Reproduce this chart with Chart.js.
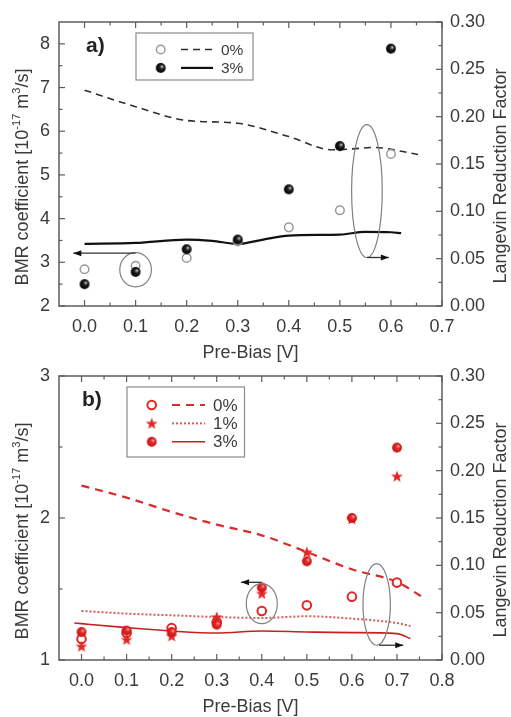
<!DOCTYPE html>
<html>
<head>
<meta charset="utf-8">
<script src="https://cdn.jsdelivr.net/npm/chart.js@4"></script>
<style>
  html, body { margin: 0; padding: 0; background: #fff; }
  #wrap { position: relative; width: 511px; height: 717px; overflow: hidden; background: #fff; }
  canvas { position: absolute; left: 0; }
</style>
</head>
<body>
<div id="wrap">
  <canvas id="panelA" width="511" height="363" style="top:0"></canvas>
  <canvas id="panelB" width="511" height="363" style="top:354px"></canvas>
</div>
<script>
// ---------- panel a) ----------
const biasA   = [0.0, 0.1, 0.2, 0.3, 0.4, 0.5, 0.6];
const bmrA0   = [2.84, 2.92, 3.10, 3.48, 3.80, 4.19, 5.48];   // 0 %, open circles
const bmrA3   = [2.50, 2.78, 3.30, 3.52, 4.67, 5.66, 7.89];   // 3 %, filled circles
const lrfXA0  = [0.0, 0.1, 0.2, 0.3, 0.4, 0.485, 0.525, 0.57, 0.615, 0.653];
const lrfA0   = [0.228, 0.2105, 0.196, 0.193, 0.179, 0.165, 0.166, 0.1675, 0.164, 0.160];
const lrfXA3  = [0.0, 0.1, 0.2, 0.25, 0.3, 0.35, 0.4, 0.5, 0.55, 0.6, 0.62];
const lrfA3   = [0.0656, 0.0666, 0.0702, 0.0688, 0.0656, 0.0702, 0.0744, 0.0755, 0.0783, 0.0779, 0.0769];
const xTicksA = [0.0, 0.1, 0.2, 0.3, 0.4, 0.5, 0.6, 0.7];
const yTicksA = [2, 3, 4, 5, 6, 7, 8];

// ---------- panel b) ----------
const biasB   = [0.0, 0.1, 0.2, 0.3, 0.4, 0.5, 0.6, 0.7];
const bmrB0   = [1.148, 1.19, 1.225, 1.268, 1.345, 1.385, 1.446, 1.545];  // 0 %
const bmrB1   = [1.096, 1.144, 1.169, 1.303, 1.468, 1.76, 1.993, 2.294];  // 1 %
const bmrB3   = [1.197, 1.207, 1.197, 1.249, 1.510, 1.695, 2.000, 2.496]; // 3 %
const lrfXB0  = [0.0, 0.1, 0.2, 0.3, 0.4, 0.5, 0.6, 0.7, 0.754];
const lrfB0   = [0.1842, 0.1715, 0.1564, 0.143, 0.1317, 0.1141, 0.0958, 0.0824, 0.0673];
const lrfXB1  = [0.0, 0.1, 0.2, 0.3, 0.4, 0.5, 0.6, 0.7, 0.73];
const lrfB1   = [0.0518, 0.049, 0.0472, 0.0454, 0.0444, 0.0462, 0.0437, 0.0391, 0.0359];
const lrfXB3  = [-0.016, 0.0, 0.1, 0.2, 0.3, 0.4, 0.5, 0.6, 0.7, 0.73];
const lrfB3   = [0.0391, 0.0384, 0.0342, 0.0306, 0.0285, 0.0306, 0.0296, 0.0289, 0.0279, 0.0226];
const xTicksB = [0.0, 0.1, 0.2, 0.3, 0.4, 0.5, 0.6, 0.7, 0.8];
const yTicksB = [1, 2, 3];

// shared right axis
const lrfTicks = [0.00, 0.05, 0.10, 0.15, 0.20, 0.25, 0.30];

const FONT = "'Liberation Sans', Arial, sans-serif";
const TEXT = '#3b3b3b';
const AXIS = '#5c5c5c';
const RED = '#e22626';

const pts = (xs, ys) => xs.map((x, i) => ({ x, y: ys[i] }));

// ---------- marker sprites ----------
function sprite(size, draw) {
  const c = document.createElement('canvas');
  c.width = c.height = size;
  draw(c.getContext('2d'), size / 2);
  return c;
}
function ball(base, dark, shine) {
  return sprite(12, (g, c) => {
    const gr = g.createRadialGradient(c + 1.6, c - 1.6, 0.3, c, c, 5.2);
    gr.addColorStop(0, shine);
    gr.addColorStop(0.38, base);
    gr.addColorStop(1, dark);
    g.fillStyle = gr;
    g.beginPath(); g.arc(c, c, 4.9, 0, Math.PI * 2); g.fill();
  });
}
const ballBlack = ball('#1e1e1e', '#000', '#c8c8c8');
const ballRed = ball('#e22626', '#c41414', '#ff9d9d');
const starRed = sprite(14, (g, c) => {
  g.fillStyle = RED;
  g.beginPath();
  for (let k = 0; k < 10; k++) {
    const r = k % 2 ? 2.6 : 6.2;
    const a = -Math.PI / 2 + k * Math.PI / 5;
    g.lineTo(c + r * Math.cos(a), c + 0.5 + r * Math.sin(a));
  }
  g.closePath(); g.fill();
});

// ---------- axes, ticks, labels, legend and guide marks ----------
function drawArrow(ctx, x1, y1, x2, y2) {
  ctx.beginPath(); ctx.moveTo(x1, y1); ctx.lineTo(x2, y2); ctx.stroke();
  const ang = Math.atan2(y2 - y1, x2 - x1);
  ctx.beginPath();
  ctx.moveTo(x2, y2);
  ctx.lineTo(x2 - 8 * Math.cos(ang) + 3 * Math.sin(ang), y2 - 8 * Math.sin(ang) - 3 * Math.cos(ang));
  ctx.lineTo(x2 - 8 * Math.cos(ang) - 3 * Math.sin(ang), y2 - 8 * Math.sin(ang) + 3 * Math.cos(ang));
  ctx.closePath(); ctx.fill();
}

function drawRotated(ctx, parts, x, cy, size) {
  ctx.save();
  ctx.translate(x, cy);
  ctx.rotate(-Math.PI / 2);
  ctx.textBaseline = 'alphabetic';
  ctx.textAlign = 'left';
  let total = 0;
  const widths = parts.map(p => {
    ctx.font = (p.sup ? Math.round(size * 0.62) : size) + 'px ' + FONT;
    const w = ctx.measureText(p.t).width;
    total += w;
    return w;
  });
  let pos = -total / 2;
  parts.forEach((p, i) => {
    ctx.font = (p.sup ? Math.round(size * 0.62) : size) + 'px ' + FONT;
    ctx.fillText(p.t, pos, p.sup ? -size * 0.42 : 0);
    pos += widths[i];
  });
  ctx.restore();
}

function drawMarker(ctx, m, x, y) {
  if (m.img) {
    ctx.drawImage(m.img, x - m.img.width / 2, y - m.img.height / 2);
  } else {
    ctx.save();
    ctx.fillStyle = '#fff'; ctx.strokeStyle = m.color; ctx.lineWidth = m.width;
    ctx.beginPath(); ctx.arc(x, y, m.r, 0, Math.PI * 2); ctx.fill(); ctx.stroke();
    ctx.restore();
  }
}

const panelDecor = {
  id: 'panelDecor',
  afterDraw(chart, args, o) {
    const { ctx, chartArea: a, scales: { x, y, y2 } } = chart;
    ctx.save();

    // guide ellipses and arrows (positions in data units)
    ctx.strokeStyle = '#808080';
    ctx.lineWidth = 1.2;
    o.ellipses.forEach(e => {
      const cx = x.getPixelForValue(e.x), cy = y.getPixelForValue(e.y);
      const rx = Math.abs(x.getPixelForValue(e.x + e.rx) - cx);
      const ry = Math.abs(y.getPixelForValue(e.y + e.ry) - cy);
      ctx.beginPath(); ctx.ellipse(cx, cy, rx, ry, 0, 0, Math.PI * 2); ctx.stroke();
    });
    ctx.strokeStyle = '#333'; ctx.fillStyle = '#111'; ctx.lineWidth = 1.3;
    o.arrows.forEach(r => {
      drawArrow(ctx, x.getPixelForValue(r.x1), y.getPixelForValue(r.y),
                     x.getPixelForValue(r.x2), y.getPixelForValue(r.y));
    });

    // frame
    ctx.strokeStyle = AXIS;
    ctx.lineWidth = 1.5;
    ctx.strokeRect(a.left, a.top, a.right - a.left, a.bottom - a.top);

    // inward ticks
    ctx.lineWidth = 1.2;
    const seg = (x1, y1, x2, y2) => { ctx.beginPath(); ctx.moveTo(x1, y1); ctx.lineTo(x2, y2); ctx.stroke(); };
    const withMinors = (maj, maxV) => {
      const out = [];
      maj.forEach((v, i) => {
        out.push([v, 6]);
        const step = i + 1 < maj.length ? maj[i + 1] - v : maj[1] - maj[0];
        if (v + step / 2 < maxV - 1e-9) out.push([v + step / 2, 3.5]);
      });
      return out;
    };
    withMinors(o.xTicks, x.max).forEach(([v, L]) => {
      const p = x.getPixelForValue(v);
      seg(p, a.bottom, p, a.bottom - L);
      seg(p, a.top, p, a.top + L);
    });
    withMinors(o.yTicks, y.max).forEach(([v, L]) => {
      const p = y.getPixelForValue(v);
      seg(a.left, p, a.left + L, p);
    });
    withMinors(lrfTicks, y2.max).forEach(([v, L]) => {
      const p = y2.getPixelForValue(v);
      seg(a.right, p, a.right - L, p);
    });

    // legend
    const L = o.legend;
    ctx.strokeStyle = '#8a8a8a'; ctx.lineWidth = 1.2;
    ctx.strokeRect(L.left, L.top, L.width, L.height);
    ctx.font = L.font + 'px ' + FONT;
    ctx.textAlign = 'left'; ctx.textBaseline = 'middle';
    L.rows.forEach((row, i) => {
      const ry = L.top + L.first + i * L.gap;
      drawMarker(ctx, row.marker, L.left + L.markerX, ry);
      ctx.save();
      ctx.strokeStyle = row.line.color; ctx.lineWidth = row.line.width;
      ctx.setLineDash(row.line.dash);
      seg(L.left + L.lineX1, ry, L.left + L.lineX2, ry);
      ctx.restore();
      ctx.fillStyle = TEXT;
      ctx.fillText(row.label, L.left + L.textX, ry + 1);
    });

    // titles
    ctx.fillStyle = TEXT;
    ctx.font = '18px ' + FONT;
    ctx.textAlign = 'center'; ctx.textBaseline = 'middle';
    ctx.fillText('Pre-Bias [V]', (a.left + a.right) / 2, 353);
    drawRotated(ctx, [
      { t: 'BMR coefficient [10' }, { t: '-17', sup: true }, { t: ' m' },
      { t: '3', sup: true }, { t: '/s]' }
    ], 28, 177, 18);
    drawRotated(ctx, [{ t: 'Langevin Reduction Factor' }], 505.5, 176, 18);

    ctx.font = 'bold 21px ' + FONT;
    ctx.fillStyle = '#222';
    ctx.textAlign = 'left';
    ctx.fillText(o.tag, o.tagX, 46);

    ctx.restore();
  }
};

const hiddenGrid = { display: false, drawTicks: false };

function panel(id, s) {
  return new Chart(document.getElementById(id), {
    type: 'scatter',
    data: { datasets: s.datasets },
    options: {
      responsive: false,
      animation: false,
      devicePixelRatio: 1,
      layout: { padding: { top: 22, left: 0, right: 0, bottom: 0 } },
      plugins: {
        legend: { display: false },
        tooltip: { enabled: false },
        panelDecor: s.decor
      },
      scales: {
        x: {
          type: 'linear', position: 'bottom', min: s.xMin, max: s.xMax,
          afterBuildTicks: sc => { sc.ticks = s.decor.xTicks.map(v => ({ value: v })); },
          afterFit: sc => { sc.height = 57; },
          grid: hiddenGrid, border: { display: false },
          ticks: { padding: 10, color: TEXT, font: { family: FONT, size: 18 },
                   maxRotation: 0, autoSkip: false, callback: v => v.toFixed(1) }
        },
        y: {
          type: 'linear', position: 'left', min: s.yMin, max: s.yMax,
          afterBuildTicks: sc => { sc.ticks = s.decor.yTicks.map(v => ({ value: v })); },
          afterFit: sc => { sc.width = 59; },
          grid: hiddenGrid, border: { display: false },
          ticks: { padding: 9, color: TEXT, font: { family: FONT, size: 18 }, callback: v => String(v) }
        },
        y2: {
          type: 'linear', position: 'right', min: 0, max: 0.3,
          afterBuildTicks: sc => { sc.ticks = lrfTicks.map(v => ({ value: v })); },
          afterFit: sc => { sc.width = 69; },
          grid: hiddenGrid, border: { display: false },
          ticks: { padding: 8, color: TEXT, font: { family: FONT, size: 18 }, callback: v => v.toFixed(2) }
        }
      }
    },
    plugins: [panelDecor]
  });
}

const curve = (data, color, width, dash) => ({
  data, yAxisID: 'y2', showLine: true, pointRadius: 0, borderColor: color,
  borderWidth: width, borderDash: dash, cubicInterpolationMode: 'monotone', fill: false
});

// ---------- panel a) ----------
const openGrey = { color: '#9a9a9a', width: 1.5, r: 4.3 };
panel('panelA', {
  xMin: -0.05, xMax: 0.7, yMin: 2, yMax: 8.5,
  datasets: [
    { data: pts(biasA, bmrA3), yAxisID: 'y', pointStyle: ballBlack, pointRadius: 5 },
    { data: pts(biasA, bmrA0), yAxisID: 'y', pointStyle: 'circle', pointRadius: 4.3,
      backgroundColor: '#fff', borderColor: openGrey.color, borderWidth: 1.5 },
    curve(pts(lrfXA0, lrfA0), '#2e2e2e', 1.6, [7, 5]),
    curve(pts(lrfXA3, lrfA3), '#111', 2.2, [])
  ],
  decor: {
    tag: 'a)', tagX: 86,
    xTicks: xTicksA, yTicks: yTicksA,
    ellipses: [
      { x: 0.1, y: 2.83, rx: 0.031, ry: 0.39 },
      { x: 0.553, y: 4.63, rx: 0.03, ry: 1.52 }
    ],
    arrows: [
      { x1: 0.1, x2: -0.022, y: 3.21 },
      { x1: 0.553, x2: 0.596, y: 3.11 }
    ],
    legend: {
      left: 136, top: 33, width: 117, height: 47, font: 15.5,
      first: 16.5, gap: 18.4, markerX: 24.7, lineX1: 45, lineX2: 77, textX: 85,
      rows: [
        { label: '0%', marker: openGrey, line: { color: '#2e2e2e', width: 1.6, dash: [7, 5] } },
        { label: '3%', marker: { img: ballBlack }, line: { color: '#111', width: 2.2, dash: [] } }
      ]
    }
  }
});

// ---------- panel b) ----------
const openRed = { color: RED, width: 2, r: 4.3 };
panel('panelB', {
  xMin: -0.05, xMax: 0.8, yMin: 1, yMax: 3,
  datasets: [
    { data: pts(biasB, bmrB3), yAxisID: 'y', pointStyle: ballRed, pointRadius: 5 },
    { data: pts(biasB, bmrB1), yAxisID: 'y', pointStyle: starRed, pointRadius: 5 },
    { data: pts(biasB, bmrB0), yAxisID: 'y', pointStyle: 'circle', pointRadius: 4.3,
      backgroundColor: '#fff', borderColor: RED, borderWidth: 2 },
    curve(pts(lrfXB0, lrfB0), '#d92a2d', 2.2, [8, 6]),
    curve(pts(lrfXB1, lrfB1), '#e25656', 2, [2, 2]),
    curve(pts(lrfXB3, lrfB3), '#c81f1f', 1.6, [])
  ],
  decor: {
    tag: 'b)', tagX: 82,
    xTicks: xTicksB, yTicks: yTicksB,
    ellipses: [
      { x: 0.4, y: 1.397, rx: 0.0344, ry: 0.141 },
      { x: 0.655, y: 1.391, rx: 0.0304, ry: 0.287 }
    ],
    arrows: [
      { x1: 0.4, x2: 0.354, y: 1.547 },
      { x1: 0.66, x2: 0.714, y: 1.104 }
    ],
    legend: {
      left: 127, top: 33, width: 117.5, height: 70, font: 17,
      first: 18, gap: 18.4, markerX: 24.7, lineX1: 45, lineX2: 78, textX: 86,
      rows: [
        { label: '0%', marker: openRed, line: { color: '#d92a2d', width: 2.2, dash: [8, 6] } },
        { label: '1%', marker: { img: starRed }, line: { color: '#e25656', width: 2, dash: [2, 2] } },
        { label: '3%', marker: { img: ballRed }, line: { color: '#c81f1f', width: 1.6, dash: [] } }
      ]
    }
  }
});
</script>
</body>
</html>
